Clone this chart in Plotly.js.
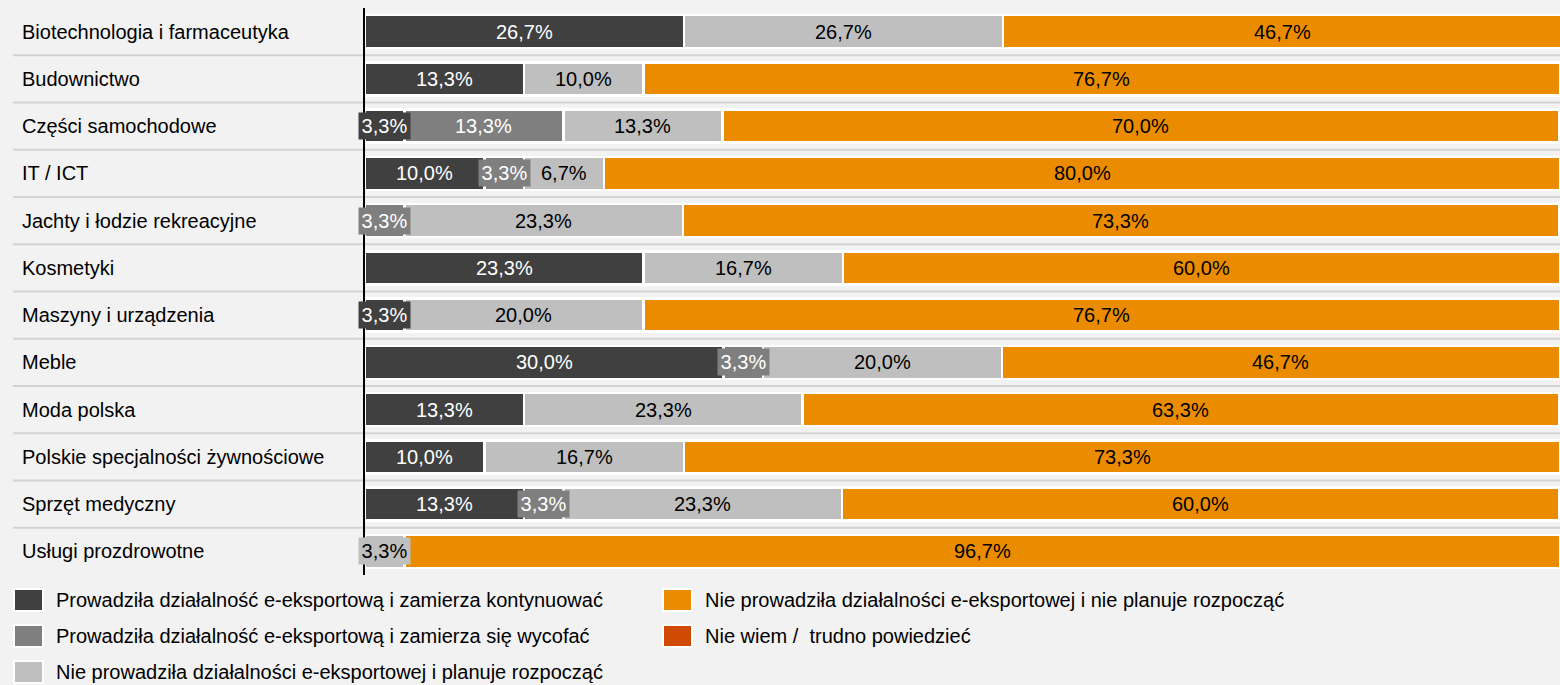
<!DOCTYPE html>
<html>
<head>
<meta charset="utf-8">
<script src="https://cdn.plot.ly/plotly-3.0.1.min.js"></script>
<style>
  html, body { margin: 0; padding: 0; background: #f2f2f2; }
  #chart { width: 1560px; height: 685px; }
</style>
</head>
<body>
<div id="chart"></div>
<script>
// ---- Data ----
const categories = [
  "Biotechnologia i farmaceutyka",
  "Budownictwo",
  "Części samochodowe",
  "IT / ICT",
  "Jachty i łodzie rekreacyjne",
  "Kosmetyki",
  "Maszyny i urządzenia",
  "Meble",
  "Moda polska",
  "Polskie specjalności żywnościowe",
  "Sprzęt medyczny",
  "Usługi prozdrowotne"
];
const seriesNames = [
  "Prowadziła działalność e-eksportową i zamierza kontynuować",
  "Prowadziła działalność e-eksportową i zamierza się wycofać",
  "Nie prowadziła działalności e-eksportowej i planuje rozpocząć",
  "Nie prowadziła działalności e-eksportowej i nie planuje rozpocząć",
  "Nie wiem /  trudno powiedzieć"
];
const kontynuowac = [26.7, 13.3, 3.3, 10.0, 0, 23.3, 3.3, 30.0, 13.3, 10.0, 13.3, 0];
const wycofac     = [0, 0, 13.3, 3.3, 3.3, 0, 0, 3.3, 0, 0, 3.3, 0];
const planuje     = [26.7, 10.0, 13.3, 6.7, 23.3, 16.7, 20.0, 20.0, 23.3, 16.7, 23.3, 3.3];
const niePlanuje  = [46.7, 76.7, 70.0, 80.0, 73.3, 60.0, 76.7, 46.7, 63.3, 73.3, 60.0, 96.7];
const nieWiem     = [0, 0, 0, 0, 0, 0, 0, 0, 0, 0, 0, 0];

const seriesValues = [kontynuowac, wycofac, planuje, niePlanuje, nieWiem];
const seriesColors = ["#404040", "#7f7f7f", "#bfbfbf", "#eb8c00", "#d04a02"];
const labelColors  = ["#ffffff", "#ffffff", "#000000", "#000000", "#ffffff"];

// ---- Geometry (pixels) ----
const W = 1560, H = 685;
const M = {l: 365, r: 0, t: 8, b: 110};
const plotW = W - M.l - M.r, plotH = H - M.t - M.b;
const px2x = p => (p - M.l) / plotW;
const py2y = p => (H - M.b - p) / plotH;
const FONT = "Arial, 'Liberation Sans', sans-serif";
const FS = 20;

// ---- Traces ----
const traces = seriesValues.map((vals, i) => ({
  type: "bar",
  orientation: "h",
  name: seriesNames[i],
  y: categories,
  x: vals,
  marker: {color: seriesColors[i], line: {color: "#ffffff", width: 2.5}},
  hoverinfo: "name+x",
  showlegend: false
}));

// ---- Annotations: bar labels ----
const annotations = [];
categories.forEach((cat, r) => {
  let cum = 0;
  seriesValues.forEach((vals, i) => {
    const v = vals[r];
    if (v > 0) {
      const a = {
        x: cum + v / 2, y: cat, xref: "x", yref: "y",
        text: v.toFixed(1).replace(".", ",") + "%",
        showarrow: false,
        font: {family: FONT, size: FS, color: labelColors[i]},
        xanchor: "center", yanchor: "middle"
      };
      if (v < 5) {
        a.bgcolor = seriesColors[i];
        a.width = 47; a.height = 22; a.borderpad = 2;
      }
      annotations.push(a);
    }
    cum += v;
  });
  // category label
  annotations.push({
    x: px2x(20), y: cat, xref: "paper", yref: "y",
    text: cat, showarrow: false, xanchor: "left", yanchor: "middle",
    font: {family: FONT, size: FS, color: "#000000"}
  });
});

// ---- Shapes: row separators ----
const shapes = [];
for (let k = 0; k < categories.length - 1; k++) {
  shapes.push({
    type: "line", layer: "below",
    xref: "paper", yref: "y",
    x0: px2x(13), x1: 1, y0: k + 0.5, y1: k + 0.5,
    line: {color: "#d3d3d3", width: 2}
  });
}

// ---- Custom legend (column-major, 2 columns) ----
const legendPos = [
  {sx: 13, cy: 600}, {sx: 13, cy: 636}, {sx: 13, cy: 672},
  {sx: 662, cy: 600}, {sx: 662, cy: 636}
];
seriesNames.forEach((nm, i) => {
  const p = legendPos[i];
  shapes.push({
    type: "rect", xref: "paper", yref: "paper",
    x0: px2x(p.sx + 1), x1: px2x(p.sx + 30),
    y0: py2y(p.cy - 11), y1: py2y(p.cy + 11),
    fillcolor: seriesColors[i], line: {color: "#ffffff", width: 2}
  });
  annotations.push({
    x: px2x(p.sx + 41), y: py2y(p.cy), xref: "paper", yref: "paper",
    text: nm, showarrow: false, xanchor: "left", yanchor: "middle",
    font: {family: FONT, size: FS, color: "#000000"}
  });
});

const layout = {
  width: W, height: H,
  margin: M,
  paper_bgcolor: "#f2f2f2",
  plot_bgcolor: "rgba(0,0,0,0)",
  barmode: "stack",
  bargap: 0.3,
  showlegend: false,
  font: {family: FONT, size: FS, color: "#000"},
  xaxis: {range: [0, 100], showgrid: false, zeroline: false, showticklabels: false, ticks: "", fixedrange: true},
  yaxis: {
    type: "category", categoryorder: "array", categoryarray: categories,
    autorange: "reversed", showgrid: false, zeroline: false,
    showticklabels: false, ticks: "",
    showline: true, linecolor: "#000000", linewidth: 2, fixedrange: true
  },
  shapes: shapes,
  annotations: annotations
};

Plotly.newPlot("chart", traces, layout, {displayModeBar: false});
</script>
</body>
</html>
